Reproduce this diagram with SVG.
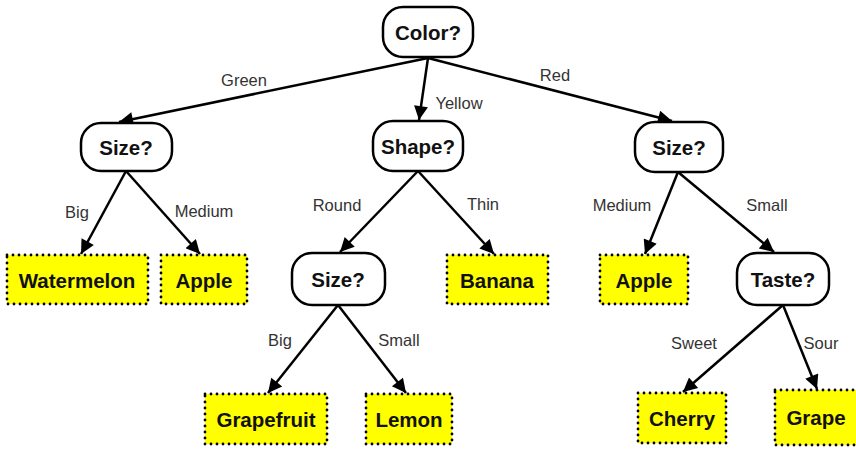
<svg xmlns="http://www.w3.org/2000/svg" width="856" height="449" viewBox="0 0 856 449">
  <style>
    .q rect { fill: #ffffff; stroke: #000000; stroke-width: 2.5; }
    .leaf rect { fill: #ffff00; stroke: #000000; stroke-width: 2.8; stroke-dasharray: 0 6; stroke-linecap: round; }
    .node text { font-family: "Liberation Sans", Arial, sans-serif; font-size: 20.5px; font-weight: bold; fill: #111111; text-anchor: middle; dominant-baseline: central; }
    .edge { stroke: #000000; stroke-width: 2.5; fill: none; marker-end: url(#arrow); }
    .lbl { font-family: "Liberation Sans", Arial, sans-serif; font-size: 16.5px; fill: #333333; text-anchor: middle; dominant-baseline: central; }
  </style>
  <defs>
    <marker id="arrow" viewBox="0 0 10 10" refX="10" refY="5" markerUnits="userSpaceOnUse" markerWidth="20" markerHeight="14" orient="auto">
      <path d="M0,0 L10,5 L0,10 Z" fill="#000000"/>
    </marker>
  </defs>

  <rect width="856" height="449" fill="#ffffff"/>

  <g id="connectors">
    <line class="edge" x1="428" y1="58" x2="119" y2="122"/>
    <line class="edge" x1="428" y1="58" x2="419" y2="120"/>
    <line class="edge" x1="428" y1="58" x2="672" y2="121"/>
    <line class="edge" x1="126" y1="171" x2="81" y2="254"/>
    <line class="edge" x1="126" y1="171" x2="200" y2="254"/>
    <line class="edge" x1="418" y1="171" x2="340" y2="252"/>
    <line class="edge" x1="418" y1="171" x2="494" y2="254"/>
    <line class="edge" x1="678" y1="172" x2="645" y2="254"/>
    <line class="edge" x1="678" y1="172" x2="774" y2="252"/>
    <line class="edge" x1="338" y1="305" x2="268" y2="393"/>
    <line class="edge" x1="338" y1="305" x2="406" y2="393"/>
    <line class="edge" x1="783" y1="305" x2="683" y2="392"/>
    <line class="edge" x1="783" y1="305" x2="817" y2="389"/>

    <text class="lbl" x="244" y="80">Green</text>
    <text class="lbl" x="459" y="103">Yellow</text>
    <text class="lbl" x="555" y="75">Red</text>
    <text class="lbl" x="77" y="212">Big</text>
    <text class="lbl" x="204" y="211">Medium</text>
    <text class="lbl" x="337" y="205">Round</text>
    <text class="lbl" x="483" y="204">Thin</text>
    <text class="lbl" x="622" y="205">Medium</text>
    <text class="lbl" x="767" y="205">Small</text>
    <text class="lbl" x="280" y="340">Big</text>
    <text class="lbl" x="399" y="340">Small</text>
    <text class="lbl" x="694" y="343">Sweet</text>
    <text class="lbl" x="821" y="343">Sour</text>
  </g>

  <g id="color" class="node q">
    <rect x="383" y="7" width="90" height="50" rx="20"/>
    <text x="428" y="32">Color?</text>
  </g>
  <g id="size-green" class="node q">
    <rect x="81" y="123" width="91" height="48" rx="20"/>
    <text x="126" y="147">Size?</text>
  </g>
  <g id="shape" class="node q">
    <rect x="373" y="121" width="90" height="50" rx="20"/>
    <text x="418" y="146">Shape?</text>
  </g>
  <g id="size-red" class="node q">
    <rect x="635" y="122" width="88" height="50" rx="20"/>
    <text x="679" y="147">Size?</text>
  </g>
  <g id="size-round" class="node q">
    <rect x="292" y="253" width="93" height="52" rx="20"/>
    <text x="338" y="279">Size?</text>
  </g>
  <g id="taste" class="node q">
    <rect x="737" y="253" width="92" height="52" rx="20"/>
    <text x="783" y="279">Taste?</text>
  </g>

  <g id="watermelon" class="node leaf">
    <rect x="7" y="255" width="141" height="49"/>
    <text x="77" y="280">Watermelon</text>
  </g>
  <g id="apple-green" class="node leaf">
    <rect x="161" y="255" width="86" height="49"/>
    <text x="204" y="280">Apple</text>
  </g>
  <g id="banana" class="node leaf">
    <rect x="447" y="255" width="101" height="49"/>
    <text x="497" y="280">Banana</text>
  </g>
  <g id="apple-red" class="node leaf">
    <rect x="600" y="255" width="88" height="49"/>
    <text x="644" y="280">Apple</text>
  </g>
  <g id="grapefruit" class="node leaf">
    <rect x="205" y="394" width="122" height="50"/>
    <text x="266" y="419">Grapefruit</text>
  </g>
  <g id="lemon" class="node leaf">
    <rect x="366" y="394" width="86" height="50"/>
    <text x="409" y="419">Lemon</text>
  </g>
  <g id="cherry" class="node leaf">
    <rect x="638" y="393" width="88" height="50"/>
    <text x="682" y="418">Cherry</text>
  </g>
  <g id="grape" class="node leaf">
    <rect x="775" y="390" width="90" height="55"/>
    <text x="816" y="417">Grape</text>
  </g>
</svg>
